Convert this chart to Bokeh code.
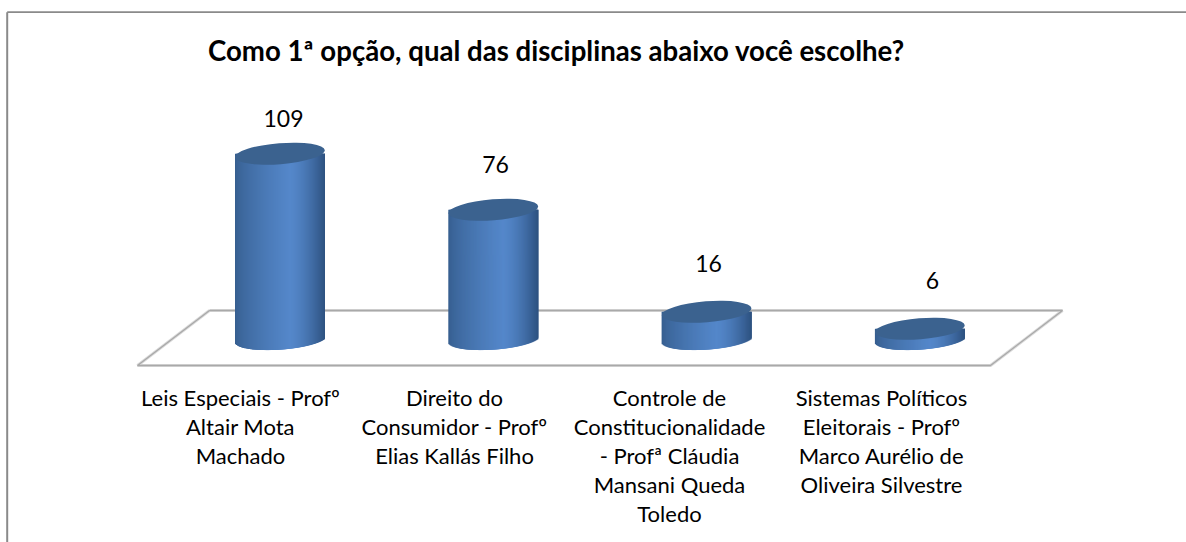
import numpy as np
from bokeh.plotting import figure
from bokeh.embed import file_html
from bokeh.resources import INLINE
from bokeh.core.properties import value
from bokeh.models import Range1d

title = "Como 1ª opção, qual das disciplinas abaixo você escolhe?"
categories = [
    ["Leis Especiais - Profº", "Altair Mota", "Machado"],
    ["Direito do", "Consumidor - Profº", "Elias Kallás Filho"],
    ["Controle de", "Constitucionalidade", "- Profª Cláudia", "Mansani Queda", "Toledo"],
    ["Sistemas Políticos", "Eleitorais - Profº", "Marco Aurélio de", "Oliveira Silvestre"],
]
values = [109, 76, 16, 6]

W, H = 1186, 542
PX_PER_UNIT = 1.7
BASE_PX = 338.5
X0_PX = 279.5
STEP_PX = 213.3
A, B, ANG = 45.0, 10.5, np.deg2rad(4.5)
LABEL_X = [240, 454, 669, 881]
VALUE_X = [283, 495, 708, 932]
VALUE_Y = [118, 164, 263, 280]

p = figure(width=W, height=H, output_backend="svg", toolbar_location=None,
           x_range=Range1d(0, W), y_range=Range1d(H, 0), min_border=0,
           x_axis_type=None, y_axis_type=None, outline_line_color=None,
           background_fill_color="white", border_fill_color="white")
p.grid.visible = False

# frame
p.line([6.7, 6.7], [542, 11.7], line_color="#8a8a8a", line_width=2)
p.line([6.7, 1186], [11.7, 11.7], line_color="#8a8a8a", line_width=1.7)

# floor
fx = [209, 1062, 990, 137, 209]
fy = [310, 310, 365, 365, 310]
p.line(fx, fy, line_color="#dadada", line_width=3)
p.line(fx, fy, line_color="#a9a9a9", line_width=1.3)

def lerp(c1, c2, t):
    return tuple(c1[i] + (c2[i] - c1[i]) * t for i in range(3))

LEFT, MID, RIGHT = (54, 94, 143), (84, 135, 202), (44, 80, 126)

def shade(t):
    if t < 0.6:
        c = lerp(LEFT, MID, (t / 0.6) ** 0.7)
    else:
        c = lerp(MID, RIGHT, ((t - 0.6) / 0.4) ** 1.5)
    return "#%02x%02x%02x" % tuple(int(round(v)) for v in c)

def ell_y(dx):
    c, s = np.cos(ANG), np.sin(ANG)
    ts = np.linspace(0, 2 * np.pi, 1441)
    xs = A * np.cos(ts) * c - B * np.sin(ts) * s
    ys = -(A * np.cos(ts) * s + B * np.sin(ts) * c)
    near = ys[np.abs(xs - dx) < 0.4]
    return near.max() if len(near) else 0.0

for i, v in enumerate(values):
    cx = X0_PX + i * STEP_PX
    top = BASE_PX - v * PX_PER_UNIT
    dxs = np.arange(-A, A, 1.0)
    lefts = cx + dxs
    rights = np.minimum(lefts + 3, cx + A)
    tops = [top] * len(dxs)
    bottoms = [BASE_PX + ell_y(d + 0.5) for d in dxs]
    colors = [shade((d + A) / (2 * A)) for d in dxs]
    p.quad(left=lefts, right=rights, top=tops, bottom=bottoms,
           fill_color=colors, line_color=None)
    p.ellipse([cx], [top], width=2 * A, height=2 * B, angle=ANG,
              fill_color="#3b628f", line_color=None)
    p.text([VALUE_X[i]], [VALUE_Y[i]], text=[str(v)], text_font=value("Lato"),
           text_font_size="23px", text_color="#000000",
           text_align="center", text_baseline="middle")
    for j, line in enumerate(categories[i]):
        p.text([LABEL_X[i]], [396.5 + j * 29.2], text=[line],
               text_font=value("Lato"), text_font_size="22px", text_color="#000000",
               text_align="center", text_baseline="middle")

p.text([556], [49.5], text=[title], text_font=value("Lato"), text_font_style="bold",
       text_font_size="27.6px", text_color="#000000",
       text_align="center", text_baseline="middle")

open("out.html", "w").write(file_html(p, INLINE))
